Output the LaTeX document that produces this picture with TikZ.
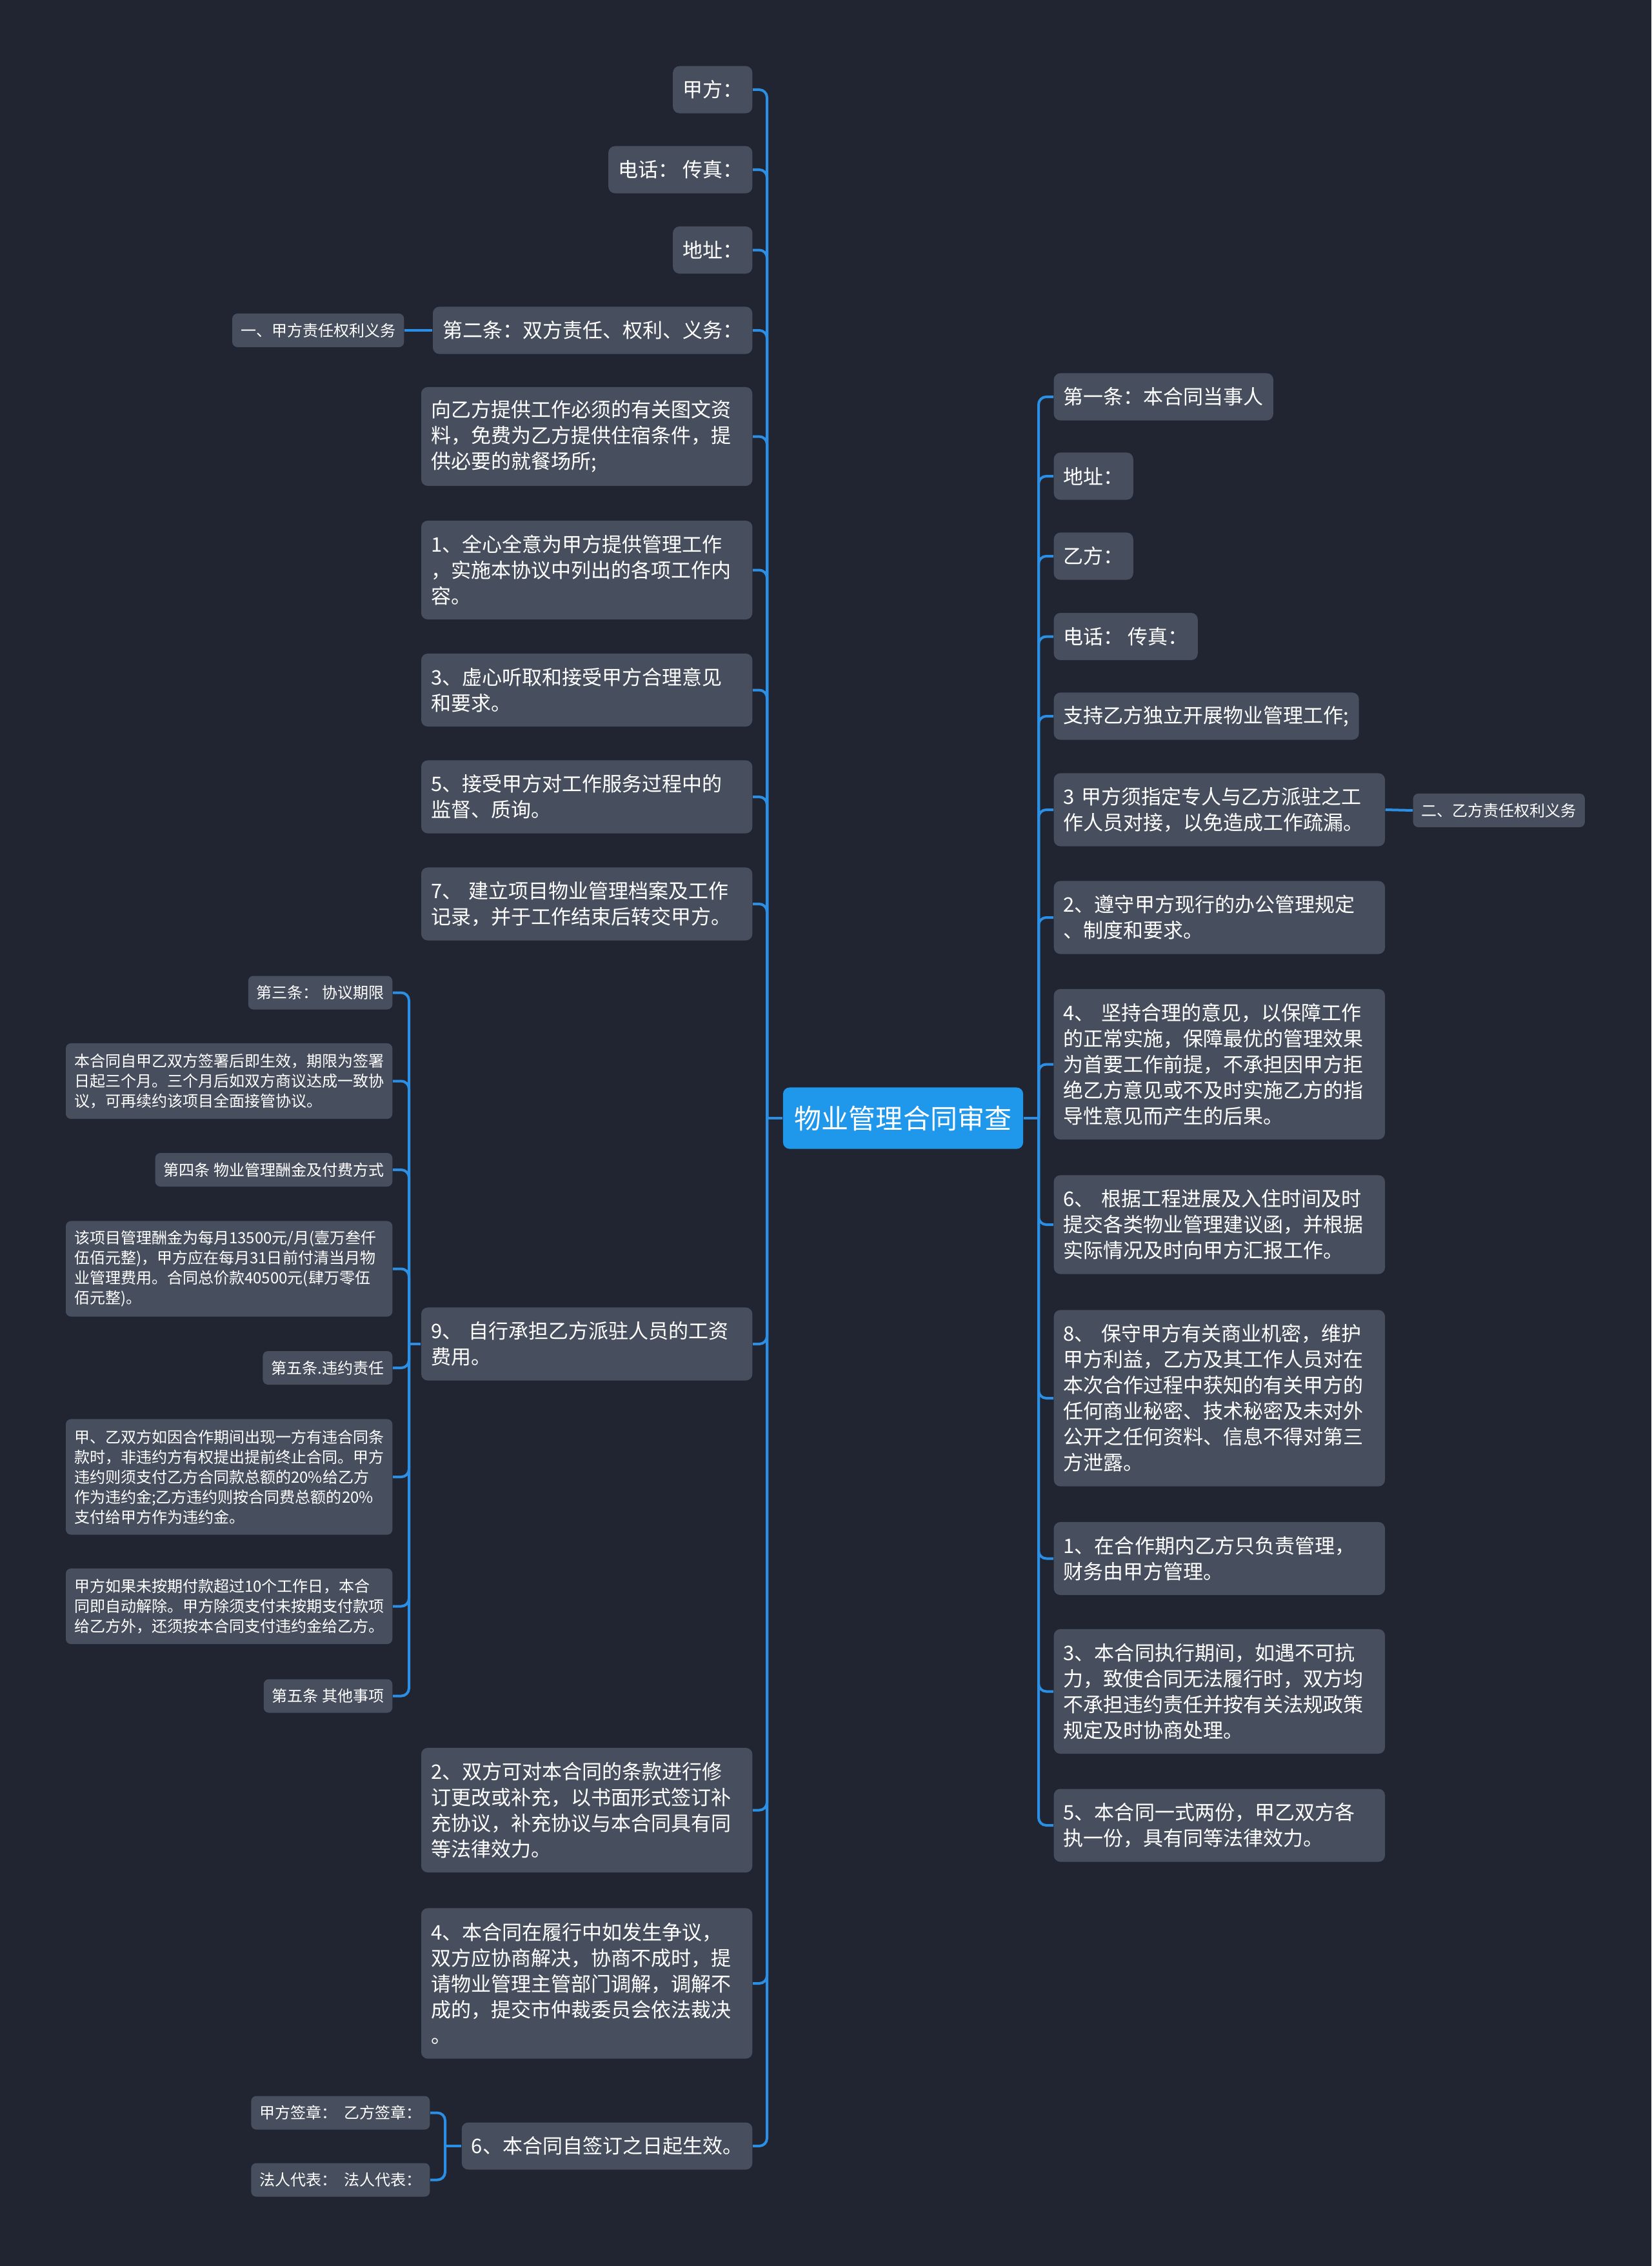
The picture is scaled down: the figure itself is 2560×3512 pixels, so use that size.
\documentclass[tikz,border=0pt]{standalone}
\usepackage{fontspec}
\newfontfamily\cjk{Noto Sans CJK SC}
\definecolor{bgc}{HTML}{212531}
\definecolor{nodefill}{HTML}{474E5E}
\definecolor{linkblue}{HTML}{2A8FE5}
\definecolor{rootblue}{HTML}{1F97EB}
\tikzset{
  lvl/.style={fill=nodefill, rounded corners=0.1cm, text=white,
    font=\cjk\fontsize{8.82pt}{11.38pt}\selectfont,
    inner xsep=0.15cm, inner ysep=0.08cm, minimum height=0.73cm, align=left},
  wrapL/.style={lvl, text width=4.83cm},
  nn2/.style={minimum height=1.13cm},
  nn3/.style={minimum height=1.53cm},
  nn4/.style={minimum height=1.93cm},
  nn5/.style={minimum height=2.33cm},
  nn6/.style={minimum height=2.73cm},
  sub/.style={fill=nodefill, rounded corners=0.08cm, text=white,
    font=\cjk\fontsize{6.83pt}{8.82pt}\selectfont,
    inner xsep=0.13cm, inner ysep=0.06cm, minimum height=0.52cm, align=left},
  wrapS/.style={sub, text width=4.8cm},
  ss3/.style={minimum height=1.17cm},
  ss4/.style={minimum height=1.48cm},
  ss5/.style={minimum height=1.79cm},
  rootbox/.style={fill=rootblue, rounded corners=0.1cm, text=white,
    font=\cjk\fontsize{11.95pt}{14pt}\selectfont,
    minimum width=3.72cm, minimum height=0.95cm, inner sep=0.1cm},
  link/.style={draw=linkblue, line width=0.04cm, rounded corners=0.12cm},
}
\begin{document}
\begin{tikzpicture}[x=0.01cm,y=-0.01cm]
\fill[bgc] (0,0) rectangle (2560,3512);
\useasboundingbox (0,0) rectangle (2560,3512);

% root
\node[rootbox] (root) at (1400,1733) {物业管理合同审查};
\coordinate (LJ) at (1189,1733);
\coordinate (RJ) at (1610,1733);

% left level-1
\node[lvl, anchor=east] (L1) at (1167,139) {甲方：};
\node[lvl, anchor=east] (L2) at (1167,263) {电话： 传真：};
\node[lvl, anchor=east] (L3) at (1167,387.5) {地址：};
\node[lvl, anchor=east] (L4) at (1167,512) {第二条：双方责任、权利、义务：};
\node[wrapL, nn3, anchor=east] (L5) at (1167,676.5) {向乙方提供工作必须的有关图文资\\料，免费为乙方提供住宿条件，提\\供必要的就餐场所;};
\node[wrapL, nn3, anchor=east] (L6) at (1167,883.5) {1、全心全意为甲方提供管理工作\\，实施本协议中列出的各项工作内\\容。};
\node[wrapL, nn2, anchor=east] (L7) at (1167,1069.5) {3、虚心听取和接受甲方合理意见\\和要求。};
\node[wrapL, nn2, anchor=east] (L8) at (1167,1235) {5、接受甲方对工作服务过程中的\\监督、质询。};
\node[wrapL, nn2, anchor=east] (L9) at (1167,1401) {7、 建立项目物业管理档案及工作\\记录，并于工作结束后转交甲方。};
\node[wrapL, nn2, anchor=east] (L10) at (1167,2083) {9、 自行承担乙方派驻人员的工资\\费用。};
\node[wrapL, nn4, anchor=east] (L11) at (1167,2805.5) {2、双方可对本合同的条款进行修\\订更改或补充，以书面形式签订补\\充协议，补充协议与本合同具有同\\等法律效力。};
\node[wrapL, nn5, anchor=east] (L12) at (1167,3074) {4、本合同在履行中如发生争议，\\双方应协商解决，协商不成时，提\\请物业管理主管部门调解，调解不\\成的，提交市仲裁委员会依法裁决\\。};
\node[lvl, anchor=east] (L13) at (1167,3326) {6、本合同自签订之日起生效。};

% left sub nodes
\node[sub, anchor=east] (L4a) at (627,512) {一、甲方责任权利义务};
\node[sub, anchor=east] (C1) at (609,1538.5) {第三条： 协议期限};
\node[wrapS, ss3, anchor=east] (C2) at (609,1675.5) {本合同自甲乙双方签署后即生效，期限为签署\\日起三个月。三个月后如双方商议达成一致协\\议，可再续约该项目全面接管协议。};
\node[sub, anchor=east] (C3) at (609,1813) {第四条 物业管理酬金及付费方式};
\node[wrapS, ss4, anchor=east] (C4) at (609,1966.5) {该项目管理酬金为每月13500元/月(壹万叁仟\\伍佰元整)，甲方应在每月31日前付清当月物\\业管理费用。合同总价款40500元(肆万零伍\\佰元整)。};
\node[sub, anchor=east] (C5) at (609,2120) {第五条.违约责任};
\node[wrapS, ss5, anchor=east] (C6) at (609,2289) {甲、乙双方如因合作期间出现一方有违合同条\\款时，非违约方有权提出提前终止合同。甲方\\违约则须支付乙方合同款总额的20\%给乙方\\作为违约金;乙方违约则按合同费总额的20\%\\支付给甲方作为违约金。};
\node[wrapS, ss3, anchor=east] (C7) at (609,2489.5) {甲方如果未按期付款超过10个工作日，本合\\同即自动解除。甲方除须支付未按期支付款项\\给乙方外，还须按本合同支付违约金给乙方。};
\node[sub, anchor=east] (C8) at (609,2628.5) {第五条 其他事项};
\node[sub, anchor=east] (S1) at (667,3274.5) {甲方签章：\ \ 乙方签章：};
\node[sub, anchor=east] (S2) at (667,3378.5) {法人代表：\ \ 法人代表：};
\coordinate (J10) at (634,2083);
\coordinate (J13) at (690,3326);

% right level-1
\node[lvl, anchor=west] (R1) at (1633,615) {第一条：本合同当事人};
\node[lvl, anchor=west] (R2) at (1633,738) {地址：};
\node[lvl, anchor=west] (R3) at (1633,862) {乙方：};
\node[lvl, anchor=west] (R4) at (1633,986.5) {电话： 传真：};
\node[lvl, anchor=west] (R5) at (1633,1110) {支持乙方独立开展物业管理工作;};
\node[wrapL, nn2, anchor=west] (R6) at (1633,1255) {3 甲方须指定专人与乙方派驻之工\\作人员对接，以免造成工作疏漏。};
\node[wrapL, nn2, anchor=west] (R7) at (1633,1422) {2、遵守甲方现行的办公管理规定\\、制度和要求。};
\node[wrapL, nn5, anchor=west] (R8) at (1633,1649.5) {4、 坚持合理的意见，以保障工作\\的正常实施，保障最优的管理效果\\为首要工作前提，不承担因甲方拒\\绝乙方意见或不及时实施乙方的指\\导性意见而产生的后果。};
\node[wrapL, nn3, anchor=west] (R9) at (1633,1898) {6、 根据工程进展及入住时间及时\\提交各类物业管理建议函，并根据\\实际情况及时向甲方汇报工作。};
\node[wrapL, nn6, anchor=west] (R10) at (1633,2167) {8、 保守甲方有关商业机密，维护\\甲方利益，乙方及其工作人员对在\\本次合作过程中获知的有关甲方的\\任何商业秘密、技术秘密及未对外\\公开之任何资料、信息不得对第三\\方泄露。};
\node[wrapL, nn2, anchor=west] (R11) at (1633,2415.5) {1、在合作期内乙方只负责管理，\\财务由甲方管理。};
\node[wrapL, nn4, anchor=west] (R12) at (1633,2621.5) {3、本合同执行期间，如遇不可抗\\力，致使合同无法履行时，双方均\\不承担违约责任并按有关法规政策\\规定及时协商处理。};
\node[wrapL, nn2, anchor=west] (R13) at (1633,2829) {5、本合同一式两份，甲乙双方各\\执一份，具有同等法律效力。};
\node[sub, anchor=west] (R6a) at (2190,1256) {二、乙方责任权利义务};

% connectors: root
\draw[link] (root.west) -- (LJ);
\draw[link] (root.east) -- (RJ);
\foreach \n in {L1,L2,L3,L4,L5,L6,L7,L8,L9,L10,L11,L12,L13}
  \draw[link] (LJ) |- (\n.east);
\foreach \n in {R1,R2,R3,R4,R5,R6,R7,R8,R9,R10,R11,R12,R13}
  \draw[link] (RJ) |- (\n.west);
% second level
\draw[link] (L4.west) -- (L4a.east);
\draw[link] (R6.east) -- (R6a.west);
\draw[link] (L10.west) -- (J10);
\foreach \n in {C1,C2,C3,C4,C5,C6,C7,C8}
  \draw[link] (J10) |- (\n.east);
\draw[link] (L13.west) -- (J13);
\foreach \n in {S1,S2}
  \draw[link] (J13) |- (\n.east);
\end{tikzpicture}
\end{document}
